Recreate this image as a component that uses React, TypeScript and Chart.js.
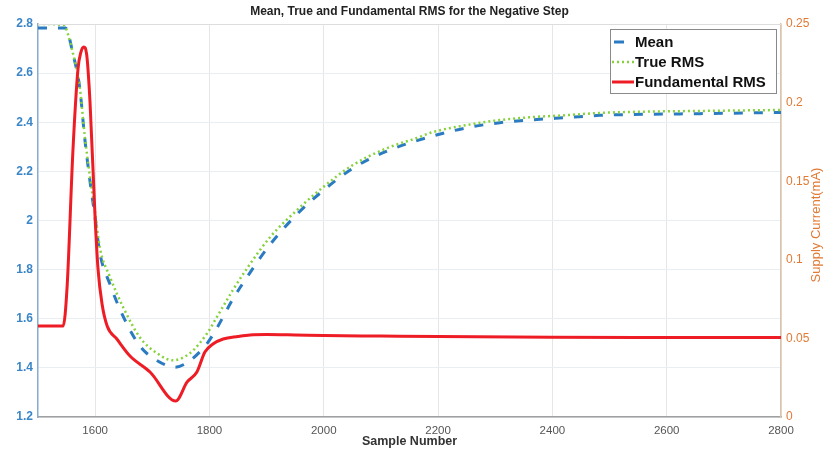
import React, { useEffect, useRef } from 'react';
import { Chart, registerables } from 'chart.js';

Chart.register(...registerables);

const chartTitle = 'Mean, True and Fundamental RMS for the Negative Step';
const xTitle = 'Sample Number';
const rightTitle = 'Supply Current(mA)';
const seriesNames = ['Mean', 'True RMS', 'Fundamental RMS'];

const meanSamples = [1500, 1548, 1561, 1573, 1582, 1591, 1600, 1608, 1626, 1649, 1678, 1708, 1740, 1766, 1796, 1813, 1841, 1871, 1906, 1953, 1999, 2051, 2111, 2163, 2251, 2308, 2366, 2426, 2483, 2658, 2800];
const meanValues = [2.784, 2.784, 2.68, 2.54, 2.33, 2.16, 2.01, 1.87, 1.74, 1.61, 1.49, 1.43, 1.403, 1.43, 1.5, 1.562, 1.68, 1.788, 1.902, 2.025, 2.122, 2.213, 2.283, 2.325, 2.378, 2.398, 2.41, 2.419, 2.428, 2.435, 2.44];

const trueSamples = [1500, 1544, 1561, 1573, 1582, 1591, 1600, 1608, 1626, 1649, 1678, 1708, 1736, 1766, 1796, 1813, 1841, 1866, 1906, 1953, 1999, 2051, 2111, 2163, 2191, 2251, 2308, 2366, 2426, 2483, 2560, 2658, 2800];
const trueValues = [2.8, 2.796, 2.682, 2.543, 2.34, 2.177, 2.03, 1.892, 1.77, 1.647, 1.525, 1.46, 1.431, 1.46, 1.541, 1.607, 1.717, 1.806, 1.932, 2.042, 2.136, 2.226, 2.295, 2.336, 2.36, 2.389, 2.409, 2.421, 2.429, 2.438, 2.443, 2.446, 2.45];

const fundSamples = [1500, 1544, 1551, 1561, 1570, 1575, 1580, 1585, 1591, 1600, 1605, 1612, 1621, 1638, 1661, 1696, 1741, 1761, 1778, 1792, 1806, 1824, 1850, 1871, 1900, 1950, 2000, 2100, 2200, 2400, 2600, 2800];
const fundValues = [0.0579, 0.0579, 0.0833, 0.1686, 0.2214, 0.232, 0.2354, 0.231, 0.2004, 0.126, 0.0942, 0.072, 0.0579, 0.0496, 0.0388, 0.0286, 0.0102, 0.0223, 0.0286, 0.0413, 0.0464, 0.0496, 0.0512, 0.0522, 0.0525, 0.0522, 0.0518, 0.0515, 0.0512, 0.0508, 0.0506, 0.0505];

const xTickValues = [1600, 1800, 2000, 2200, 2400, 2600, 2800];
const leftTickLabels = ['1.2', '1.4', '1.6', '1.8', '2', '2.2', '2.4', '2.6', '2.8'];
const rightTickLabels = ['0', '0.05', '0.1', '0.15', '0.2', '0.25'];

const BLUE = '#2b7bc2';
const GREEN = '#86d23c';
const RED = '#ee1c24';
const FONT = "'Liberation Sans', Arial, sans-serif";

const toPoints = (xs: number[], ys: number[]) => xs.map((x, i) => ({ x, y: ys[i] }));

const overlayPlugin = {
  id: 'overlay',
  afterDraw(chart: any) {
    const ctx = chart.ctx as CanvasRenderingContext2D;
    const area = chart.chartArea;
    ctx.save();
    ctx.strokeStyle = '#dddddd';
    ctx.lineWidth = 1;
    ctx.beginPath();
    ctx.moveTo(area.left, area.top + 0.5);
    ctx.lineTo(area.right, area.top + 0.5);
    ctx.stroke();

    ctx.fillStyle = '#222';
    ctx.font = `bold 12px ${FONT}`;
    ctx.textAlign = 'center';
    ctx.textBaseline = 'middle';
    ctx.fillText(chartTitle, (area.left + area.right) / 2, 12);

    ctx.fillStyle = '#333';
    ctx.font = `bold 12.5px ${FONT}`;
    ctx.fillText(xTitle, (area.left + area.right) / 2, 442);

    ctx.save();
    ctx.translate(816, 225);
    ctx.rotate(-Math.PI / 2);
    ctx.fillStyle = '#e07a35';
    ctx.font = `13px ${FONT}`;
    ctx.fillText(rightTitle, 0, 0);
    ctx.restore();

    const lx = 610.5, ly = 29.5, lw = 166, lh = 64;
    ctx.fillStyle = '#ffffff';
    ctx.fillRect(lx, ly, lw, lh);
    ctx.strokeStyle = '#8a8a8a';
    ctx.lineWidth = 1;
    ctx.strokeRect(lx, ly, lw, lh);
    const rows = [42, 62, 82];
    ctx.lineWidth = 3;
    ctx.strokeStyle = BLUE;
    ctx.beginPath();
    ctx.moveTo(614, rows[0]);
    ctx.lineTo(624, rows[0]);
    ctx.stroke();
    ctx.strokeStyle = GREEN;
    ctx.lineWidth = 2.5;
    ctx.setLineDash([2, 3]);
    ctx.beginPath();
    ctx.moveTo(612, rows[1]);
    ctx.lineTo(634, rows[1]);
    ctx.stroke();
    ctx.setLineDash([]);
    ctx.strokeStyle = RED;
    ctx.lineWidth = 3;
    ctx.beginPath();
    ctx.moveTo(612, rows[2]);
    ctx.lineTo(634, rows[2]);
    ctx.stroke();

    ctx.fillStyle = '#111';
    ctx.font = `bold 15px ${FONT}`;
    ctx.textAlign = 'left';
    ctx.textBaseline = 'middle';
    seriesNames.forEach((n, i) => ctx.fillText(n, 635, rows[i] + 1));
    ctx.restore();
  },
};

export default function App() {
  const ref = useRef<HTMLCanvasElement | null>(null);
  useEffect(() => {
    document.body.style.margin = '0';
    const canvas = ref.current!;
    const chart = new Chart(canvas, {
      type: 'line',
      data: {
        datasets: [
          {
            label: seriesNames[0],
            data: toPoints(meanSamples, meanValues),
            borderColor: BLUE,
            borderWidth: 3,
            borderDash: [9, 11],
            pointRadius: 0,
            cubicInterpolationMode: 'monotone',
            yAxisID: 'y',
            order: 2,
          },
          {
            label: seriesNames[1],
            data: toPoints(trueSamples, trueValues),
            borderColor: GREEN,
            borderWidth: 2.5,
            borderDash: [2, 3],
            pointRadius: 0,
            cubicInterpolationMode: 'monotone',
            yAxisID: 'y',
            order: 1,
          },
          {
            label: seriesNames[2],
            data: toPoints(fundSamples, fundValues),
            borderColor: RED,
            borderWidth: 3,
            pointRadius: 0,
            cubicInterpolationMode: 'monotone',
            yAxisID: 'y1',
            order: 0,
          },
        ],
      },
      options: {
        responsive: false,
        animation: false,
        layout: { padding: { top: 24, left: 0, right: 0, bottom: 0 } },
        plugins: { legend: { display: false }, tooltip: { enabled: false }, title: { display: false } },
        scales: {
          x: {
            type: 'linear',
            min: 1500,
            max: 2800,
            afterBuildTicks: (s: any) => {
              s.ticks = xTickValues.map((v) => ({ value: v }));
            },
            afterFit: (s: any) => {
              s.height = 37;
            },
            ticks: {
              color: '#555',
              font: { family: FONT, size: 11.5 },
              padding: 7,
              maxRotation: 0,
              callback: (v: any) => String(v),
            },
            grid: { color: '#e6e6e6', drawTicks: false },
            border: { color: '#a0a0a0', width: 1.5 },
          },
          y: {
            type: 'linear',
            position: 'left',
            min: 1.2,
            max: 2.8,
            afterBuildTicks: (s: any) => {
              s.ticks = leftTickLabels.map((l) => ({ value: parseFloat(l) }));
            },
            afterFit: (s: any) => {
              s.width = 38;
            },
            ticks: {
              color: '#3a86c8',
              font: { family: FONT, size: 12, weight: 'bold' },
              padding: 5,
              callback: (v: any, i: number) => leftTickLabels[i],
            },
            grid: { color: '#e8eef2', drawTicks: false },
            border: { color: '#86acd0', width: 1.5 },
          },
          y1: {
            type: 'linear',
            position: 'right',
            min: 0,
            max: 0.25,
            afterBuildTicks: (s: any) => {
              s.ticks = rightTickLabels.map((l) => ({ value: parseFloat(l) }));
            },
            afterFit: (s: any) => {
              s.width = 42;
            },
            ticks: {
              color: '#e07a35',
              font: { family: FONT, size: 12 },
              padding: 5,
              callback: (v: any, i: number) => rightTickLabels[i],
            },
            grid: { drawOnChartArea: false, drawTicks: false },
            border: { color: '#dcc4aa', width: 1.5 },
          },
        },
      },
      plugins: [overlayPlugin],
    } as any);
    return () => chart.destroy();
  }, []);
  return (
    <div style={{ width: 823, height: 454, background: '#fff' }}>
      <canvas ref={ref} width={823} height={454} />
    </div>
  );
}
